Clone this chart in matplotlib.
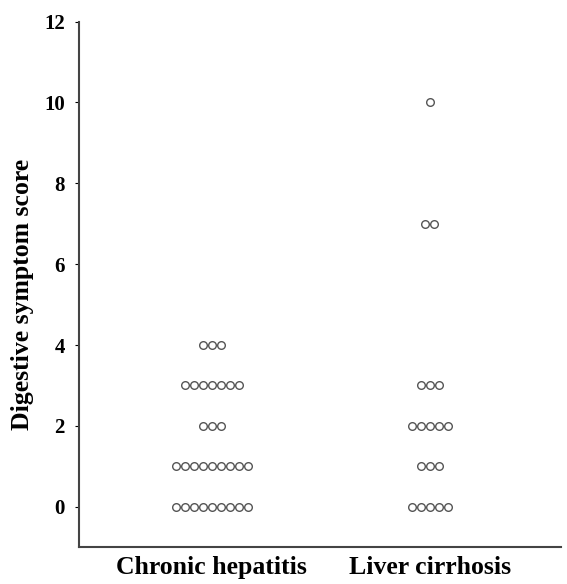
import matplotlib.pyplot as plt

groups = ["Chronic hepatitis", "Liver cirrhosis"]
# score -> number of patients
scores = [0, 1, 2, 3, 4, 7, 10]
counts_hepatitis = [9, 9, 3, 7, 3, 0, 0]
counts_cirrhosis = [5, 3, 5, 3, 0, 2, 1]
y_ticks = [0, 2, 4, 6, 8, 10, 12]


def main():
    plt.rcParams["font.family"] = "Liberation Serif"
    plt.rcParams["font.weight"] = "bold"

    fig = plt.figure(figsize=(5.67, 5.84), dpi=100)
    ax = fig.add_axes([0.139, 0.063, 0.85, 0.9])

    spacing = 0.041
    for i, counts in enumerate([counts_hepatitis, counts_cirrhosis]):
        xs, ys = [], []
        for s, n in zip(scores, counts):
            for k in range(n):
                xs.append(i + (k - (n - 1) / 2) * spacing)
                ys.append(s)
        ax.plot(xs, ys, 'o', ms=5.5, mfc='none', mec='#555555', mew=1.0)

    ax.set_xlim(-0.61, 1.6)
    ax.set_ylim(-1, 12)
    ax.set_yticks(y_ticks)
    ax.set_xticks([0, 1])
    ax.set_xticklabels(groups, fontsize=18.5, fontweight='bold')
    ax.tick_params(axis='x', length=0, pad=6)
    ax.tick_params(axis='y', labelsize=15, length=3, width=0.8, pad=7)
    ax.set_ylabel("Digestive symptom score", fontsize=18.5, fontweight='bold')
    ax.yaxis.set_label_coords(-0.093, 0.48)

    for side in ['top', 'right']:
        ax.spines[side].set_visible(False)
    for side in ['left', 'bottom']:
        ax.spines[side].set_color('#444444')
        ax.spines[side].set_linewidth(1.5)

    plt.savefig('out.png', dpi=100)
    plt.close()


if __name__ == '__main__':
    main()
